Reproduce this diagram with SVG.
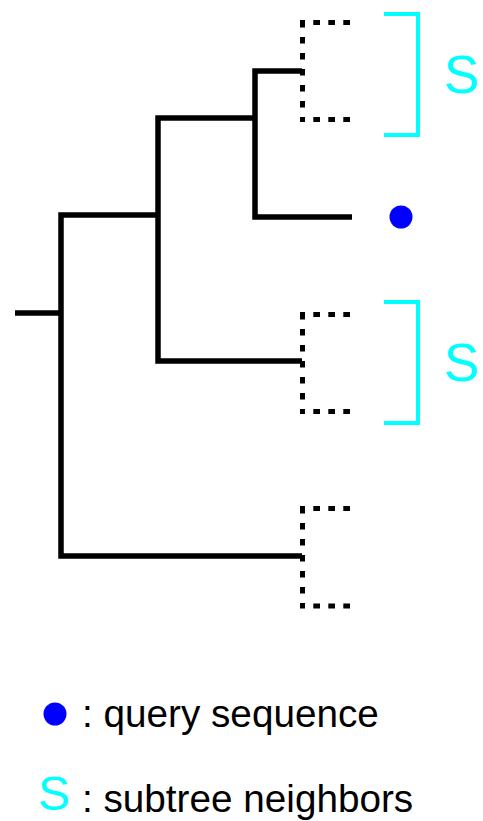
<svg xmlns="http://www.w3.org/2000/svg" width="483" height="821" viewBox="0 0 483 821">
<style>
.br{fill:none;stroke:#000;stroke-width:5.5;stroke-linejoin:miter;stroke-linecap:butt}
.dv{fill:none;stroke:#000;stroke-width:5;stroke-dasharray:6.5 9.5}
.dh{fill:none;stroke:#000;stroke-width:5;stroke-dasharray:6.7 8.3}
.cy{fill:none;stroke:#00FFFF;stroke-width:4}
.s{font-family:"Liberation Sans",Arial,sans-serif;fill:#00FFFF}
.t{font-family:"Liberation Sans",Arial,sans-serif;fill:#000;font-size:38.7px}
</style>
<rect width="483" height="821" fill="#fff"/>
<g id="connectors">
<path class="br" d="M15,313 H61"/>
<path class="br" d="M158,215 H61 V556 H302"/>
<path class="br" d="M255,118 H158 V361 H302"/>
<path class="br" d="M302,71 H255 V217 H352"/>
</g>
<g id="subtree1">
<path class="dv" d="M302.5,21 V122"/>
<path class="dh" d="M350,22.5 H300"/>
<path class="dh" d="M350,119.5 H300"/>
</g>
<g id="subtree2">
<path class="dv" d="M302.5,313 V414"/>
<path class="dh" d="M350,314.5 H300"/>
<path class="dh" d="M350,411.5 H300"/>
</g>
<g id="subtree3">
<path class="dv" d="M302.5,507 V608"/>
<path class="dh" d="M350,508.5 H300"/>
<path class="dh" d="M350,606 H300"/>
</g>
<g id="query">
<circle cx="401" cy="217" r="11.5" fill="#0000FF"/>
</g>
<g id="bracket1">
<path class="cy" d="M384,14 H418 V135 H384"/>
<text class="s" x="444" y="93" font-size="53">S</text>
</g>
<g id="bracket2">
<path class="cy" d="M384,302 H418 V423 H384"/>
<text class="s" x="444" y="381" font-size="53">S</text>
</g>
<g id="legend">
<circle cx="55" cy="714" r="11.5" fill="#0000FF"/>
<text class="t" x="82" y="727">: query sequence</text>
<text class="s" x="38" y="810" font-size="48">S</text>
<text class="t" x="82" y="812">: subtree neighbors</text>
</g>
</svg>
